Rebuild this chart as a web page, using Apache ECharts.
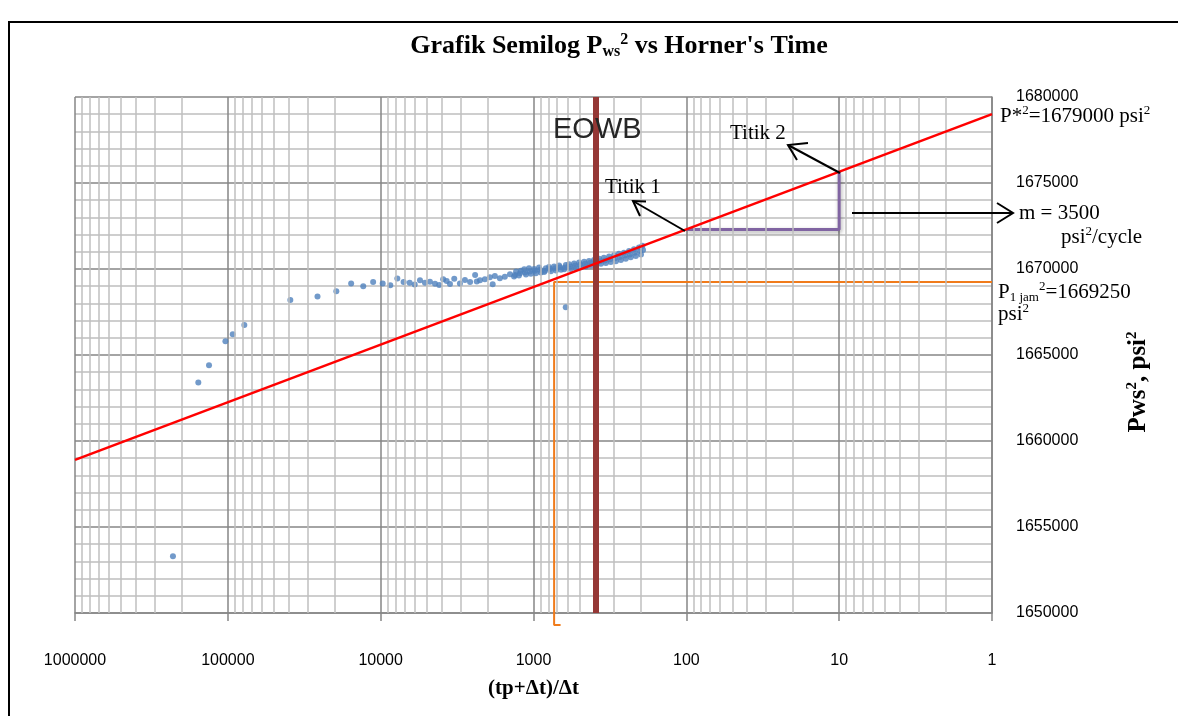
<!DOCTYPE html>
<html>
<head>
<meta charset="utf-8">
<script src="https://cdn.jsdelivr.net/npm/echarts@6.0.0/dist/echarts.min.js"></script>
<style>
html, body { margin: 0; padding: 0; background: #fff; }
#chart { width: 1178px; height: 716px; }
</style>
</head>
<body>
<div id="chart"></div>
<script>
// data: Horner time (tp+dt)/dt and Pws^2
let hornerTime = [
  228600, 156000, 132800, 103700, 92900, 78000, 39000, 25900, 19500, 15600,
  13000, 11200, 9700, 8650, 7780, 7080, 6460, 5990,
  5530, 5130, 4760, 4410, 4140, 3900, 3700, 3520, 3300, 3030,
  2810, 2600, 2410, 2350, 2240, 2080, 1930, 1850, 1790, 1660, 1540, 1425,
  1320, 1300, 1340, 1225, 1210, 1245, 1135, 1120, 1150, 1055, 1040, 1070,
  978, 965, 990, 906, 895, 920, 841, 830, 852, 780, 770, 792,
  723, 713, 733, 670, 661, 680, 622, 614, 630, 577, 570, 585,
  535, 528, 542, 496, 490, 503, 460, 454, 466, 427, 421, 433,
  396, 391, 402, 367, 362, 372, 341, 336, 346, 316, 312, 320,
  293, 289, 297, 272, 268, 276, 252, 249, 256, 234, 231, 237,
  217, 214, 220, 201, 198, 204, 192, 194, 615
]
let pws2 = [
  1653300, 1663400, 1664400, 1665800, 1666200, 1666750, 1668200, 1668400, 1668700, 1669150,
  1669000, 1669250, 1669150, 1669050, 1669450, 1669250, 1669200, 1669100,
  1669340, 1669205, 1669264, 1669147, 1669070, 1669400, 1669300, 1669130, 1669440, 1669150,
  1669360, 1669245, 1669650, 1669280, 1669340, 1669400, 1669515, 1669110, 1669590, 1669460, 1669555, 1669690,
  1669650, 1669850, 1669560, 1669750, 1669900, 1669620, 1669800, 1669680, 1669980, 1669850, 1669720, 1670050,
  1669900, 1669760, 1670000, 1669950, 1669800, 1670080, 1669900, 1670050, 1669820, 1670000, 1669870, 1670120,
  1670050, 1669920, 1670150, 1670100, 1669950, 1670200, 1670080, 1670230, 1669980, 1670150, 1670000, 1670280,
  1670200, 1670050, 1670320, 1670250, 1670100, 1670380, 1670300, 1670150, 1670420, 1670350, 1670200, 1670460,
  1670400, 1670250, 1670530, 1670450, 1670300, 1670600, 1670500, 1670350, 1670650, 1670560, 1670400, 1670720,
  1670620, 1670450, 1670800, 1670700, 1670520, 1670880, 1670780, 1670600, 1670950, 1670850, 1670680, 1671050,
  1670950, 1670750, 1671150, 1671050, 1670850, 1671250, 1671100, 1671350, 1667770
]

// straight line through P*^2 at Horner time 1
let trendLine = [[1000000, 1658900], [1, 1679000]]
// end of wellbore storage
let eowbLine = [[390, 1650000], [390, 1680000]]
// P 1 jam reading
let p1jamLine = [[1, 1669250], [733, 1669250], [733, 1649300], [665, 1649300]]
// slope triangle (one cycle)
let slopeLine = [[100, 1672300], [10, 1672300], [10, 1675650]]

// log grid lines 2..9 in every decade
let minorX = []
for (let d = 1; d < 1000000; d *= 10) {
  for (let m = 2; m <= 9; m++) minorX.push(m * d)
}

let scatterData = hornerTime.map((t, i) => [t, pws2[i]])

let serif = 'Liberation Serif'
let annoRich = {
  a: { fontFamily: serif, fontSize: 21, color: '#000', lineHeight: 24 },
  s: { fontFamily: serif, fontSize: 13, color: '#000', lineHeight: 18, verticalAlign: 'top' },
  d: { fontFamily: serif, fontSize: 13, color: '#000', lineHeight: 16, verticalAlign: 'bottom' }
}
let titleRich = {
  a: { fontFamily: serif, fontSize: 26, fontWeight: 'bold', color: '#000', lineHeight: 28 },
  s: { fontFamily: serif, fontSize: 16, fontWeight: 'bold', color: '#000', lineHeight: 22, verticalAlign: 'top' },
  d: { fontFamily: serif, fontSize: 16, fontWeight: 'bold', color: '#000', lineHeight: 18, verticalAlign: 'bottom' }
}
let nameRich = {
  a: { fontFamily: serif, fontSize: 25, fontWeight: 'bold', color: '#000', lineHeight: 28 },
  s: { fontFamily: serif, fontSize: 15, fontWeight: 'bold', color: '#000', lineHeight: 22, verticalAlign: 'top' }
}

function txt(x, y, text, rich, align, rot) {
  return {
    type: 'text', x: x, y: y, z: 100, rotation: rot || 0,
    style: { text: text, rich: rich, align: align || 'left', verticalAlign: 'middle' }
  }
}
function arrow(points) {
  return {
    type: 'polyline', z: 100,
    shape: { points: points },
    style: { stroke: '#000', lineWidth: 2, fill: null }
  }
}

let myChart = echarts.init(document.getElementById('chart'))

let option = {
  animation: false,
  backgroundColor: '#fff',
  grid: { left: 75, right: 186, top: 97, bottom: 103 },
  xAxis: {
    type: 'log',
    logBase: 10,
    min: 1,
    max: 1000000,
    inverse: true,
    splitNumber: 6,
    name: '(tp+Δt)/Δt',
    nameLocation: 'middle',
    nameGap: 65,
    nameTextStyle: { fontFamily: serif, fontWeight: 'bold', fontSize: 21, color: '#000' },
    axisLine: { lineStyle: { color: '#868686', width: 1.5 } },
    axisTick: { show: true, length: 8, lineStyle: { color: '#868686', width: 1.5 } },
    axisLabel: {
      margin: 40,
      fontFamily: 'Liberation Sans',
      fontSize: 16,
      color: '#000',
      formatter: v => String(Math.round(v))
    },
    splitLine: { show: true, lineStyle: { color: '#868686', width: 1.5 } }
  },
  yAxis: {
    type: 'value',
    position: 'right',
    min: 1650000,
    max: 1680000,
    interval: 5000,
    axisLine: { show: true, lineStyle: { color: '#868686', width: 1.5 } },
    axisTick: { show: false },
    axisLabel: {
      margin: 24, fontFamily: 'Liberation Sans', fontSize: 16, color: '#000',
      formatter: v => String(v)
    },
    splitLine: { show: true, lineStyle: { color: '#868686', width: 1.5 } },
    minorTick: { show: false, splitNumber: 5 },
    minorSplitLine: { show: true, lineStyle: { color: '#BFBFBF', width: 1.5 } }
  },
  series: [
    {
      name: 'grid',
      type: 'line',
      data: [[1, 1650000]],
      symbol: 'none',
      silent: true,
      z: 1,
      lineStyle: { width: 0 },
      markLine: {
        silent: true,
        symbol: ['none', 'none'],
        label: { show: false },
        lineStyle: { color: '#BFBFBF', width: 1.5, type: 'solid' },
        data: minorX.map(v => ({ xAxis: v }))
      }
    },
    {
      name: 'Pws2',
      type: 'scatter',
      data: scatterData,
      symbolSize: 6,
      itemStyle: { color: '#4F81BD' },
      z: 3
    },
    {
      name: 'P1jam',
      type: 'line',
      data: p1jamLine,
      symbol: 'none',
      clip: false,
      lineStyle: { color: '#F07B1B', width: 2 },
      z: 4
    },
    {
      name: 'slope',
      type: 'line',
      data: slopeLine,
      symbol: 'none',
      lineStyle: {
        color: '#8064A2', width: 3,
        shadowBlur: 4, shadowColor: 'rgba(0,0,0,0.35)', shadowOffsetY: 2, shadowOffsetX: 1
      },
      z: 4
    },
    {
      name: 'EOWB',
      type: 'line',
      data: eowbLine,
      symbol: 'none',
      lineStyle: { color: '#953735', width: 6 },
      z: 5
    },
    {
      name: 'trend',
      type: 'line',
      data: trendLine,
      symbol: 'none',
      lineStyle: { color: '#FF0000', width: 2.5 },
      z: 6
    }
  ],
  graphic: [
    {
      type: 'rect', z: 0, silent: true,
      shape: { x: 9, y: 22, width: 1200, height: 720 },
      style: { stroke: '#000', lineWidth: 2, fill: null }
    },
    txt(619, 46, '{a|Grafik Semilog P}{d|ws}{s|2}{a| vs Horner\'s Time}', titleRich, 'center'),
    txt(1139, 382, '{a|Pws}{s|2}{a|, psi}{s|2}', nameRich, 'center', Math.PI / 2),
    {
      type: 'text', x: 553, y: 130, z: 100,
      style: { text: 'EOWB', fontFamily: 'Liberation Sans', fontSize: 29, fill: '#262626', align: 'left', verticalAlign: 'middle' }
    },
    txt(605, 187, '{a|Titik 1}', annoRich),
    txt(730, 133, '{a|Titik 2}', annoRich),
    txt(1000, 116, '{a|P*}{s|2}{a|=1679000 psi}{s|2}', annoRich),
    txt(1019, 213, '{a|m = 3500}', annoRich),
    txt(1061, 237, '{a|psi}{s|2}{a|/cycle}', annoRich),
    txt(998, 292, '{a|P}{d|1 jam}{s|2}{a|=1669250}', annoRich),
    txt(998, 314, '{a|psi}{s|2}', annoRich),
    arrow([[685, 231], [633, 201]]),
    arrow([[646, 201.5], [633, 201], [640, 216]]),
    arrow([[840, 173], [788, 145]]),
    arrow([[808, 143], [788, 145], [797, 160]]),
    arrow([[852, 213], [1013, 213]]),
    arrow([[997, 203], [1013, 213], [997, 223]])
  ]
}

myChart.setOption(option)
</script>
</body>
</html>
